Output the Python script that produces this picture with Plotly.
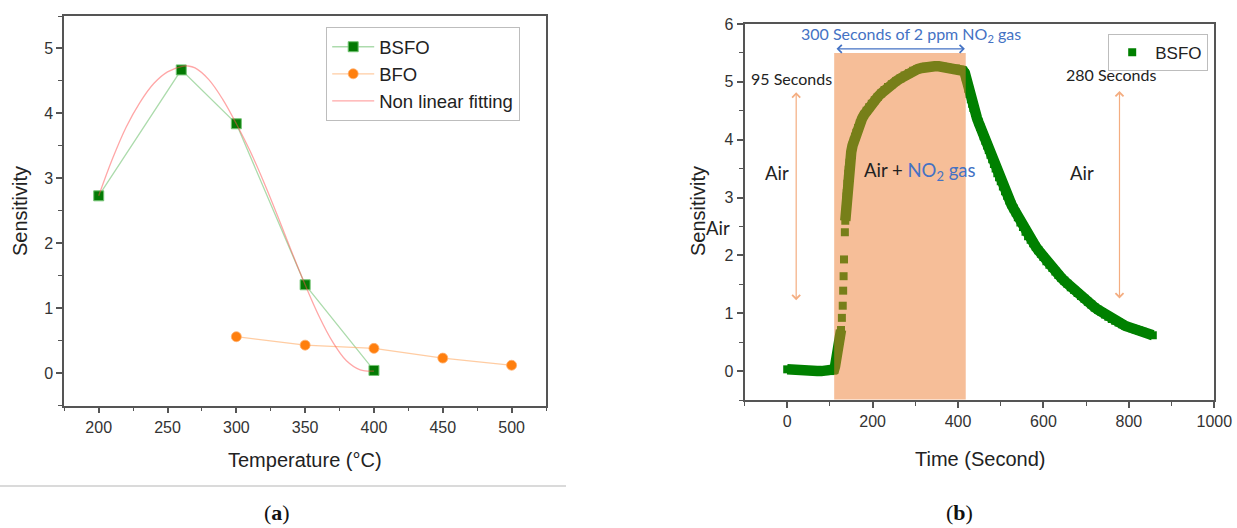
import plotly.graph_objects as go

# ---------------- (a) sensitivity vs operating temperature ----------------
temp_bsfo = [200, 260, 300, 350, 400]
sens_bsfo = [2.73, 4.67, 3.84, 1.36, 0.04]

temp_bfo = [300, 350, 400, 450, 500]
sens_bfo = [0.56, 0.43, 0.38, 0.23, 0.12]

temp_fit = [200, 210, 220, 230, 240, 250, 260, 265, 270, 280, 290,
            300, 310, 320, 330, 340, 350, 360, 370, 380, 390, 400]
sens_fit = [2.73, 3.30, 3.79, 4.17, 4.46, 4.64, 4.72, 4.73, 4.70, 4.52, 4.22,
            3.84, 3.42, 2.94, 2.42, 1.88, 1.36, 0.88, 0.48, 0.19, 0.05, 0.03]

# ---------------- (b) dynamic response of BSFO to 2 ppm NO2 ----------------
time_s = [0, 10, 20, 30, 40, 50, 60, 70, 80, 90, 100, 108,
          110, 112, 114, 116, 118, 120, 122, 124,
          126, 128, 130, 131, 132, 133, 135, 136,
          137, 137.5, 138, 138.5, 139, 139.5, 140, 141, 142, 143, 144, 145, 146, 148,
          150, 153, 156, 159, 162, 166, 170, 175, 180, 186, 192, 198, 205, 212,
          220, 228, 236, 245, 255, 265, 275, 285, 295, 305, 315, 325, 335, 345,
          355, 365, 375, 385, 395, 405, 412, 416,
          418, 421, 424, 427, 430, 433, 436, 440, 444, 448, 452, 456, 460, 464,
          468, 472, 476, 480, 484, 488, 492, 496, 500, 505, 510, 515, 520, 525,
          530, 535, 540, 546, 552, 558, 564, 570, 576, 582, 588, 594, 600, 607,
          614, 621, 628, 635, 642, 649, 656, 664, 672, 680, 688, 696, 704, 712,
          720, 728, 736, 744, 752, 760, 768, 776, 784, 792, 800, 808, 816, 824,
          832, 840, 848, 856]
sens_time = [0.03, 0.02, 0.02, 0.01, 0.01, 0.01, 0.0, 0.0, 0.0, 0.0, 0.0, 0.01,
             0.03, 0.08, 0.15, 0.24, 0.33, 0.43, 0.52, 0.61,
             0.71, 0.92, 1.13, 1.39, 1.64, 1.93, 2.40, 2.60,
             2.72, 2.80, 2.88, 2.95, 3.02, 3.08, 3.14, 3.24, 3.33, 3.41, 3.48, 3.54, 3.60, 3.70,
             3.79, 3.90, 3.98, 4.05, 4.12, 4.20, 4.28, 4.36, 4.43, 4.50, 4.56, 4.62, 4.68, 4.74,
             4.80, 4.86, 4.91, 4.96, 5.01, 5.06, 5.11, 5.15, 5.19, 5.22, 5.24, 5.26, 5.27, 5.27,
             5.27, 5.26, 5.25, 5.24, 5.23, 5.21, 5.19, 5.15,
             5.08, 4.98, 4.88, 4.79, 4.70, 4.62, 4.55, 4.46, 4.38, 4.30, 4.22, 4.14, 4.06, 3.98,
             3.90, 3.82, 3.74, 3.66, 3.58, 3.50, 3.42, 3.35, 3.28, 3.19, 3.11, 3.03, 2.95, 2.88,
             2.81, 2.74, 2.66, 2.57, 2.49, 2.41, 2.33, 2.27, 2.21, 2.15, 2.09, 2.03, 1.97, 1.90,
             1.84, 1.78, 1.72, 1.66, 1.61, 1.56, 1.51, 1.45, 1.40, 1.35, 1.30, 1.25, 1.20, 1.15,
             1.10, 1.06, 1.02, 0.98, 0.94, 0.90, 0.87, 0.84, 0.81, 0.78, 0.76, 0.74, 0.72, 0.70,
             0.68, 0.66, 0.64, 0.62]

# gas exposure window (s)
gas_on, gas_off = 110, 418

W, H = 1237, 528
SANS = "Liberation Sans, Arial, sans-serif"
CALI = "Lato, Carlito, sans-serif"
AXIS_COL = "#555555"
BLUE = "#4472C4"
ARROW_ORANGE = "#F4AD80"
GREEN = "#008000"


def px(xp):
    return xp / W


def py(yp):
    return 1 - yp / H


fig = go.Figure()

fig.add_trace(go.Scatter(
    x=temp_bsfo, y=sens_bsfo, name="BSFO", mode="lines+markers",
    line=dict(color="rgba(70,175,70,0.45)", width=1.3),
    marker=dict(symbol="square", size=10, color="#047A04",
                line=dict(color="#74C474", width=1)),
    xaxis="x", yaxis="y", legend="legend"))
fig.add_trace(go.Scatter(
    x=temp_bfo, y=sens_bfo, name="BFO", mode="lines+markers",
    line=dict(color="rgba(255,170,100,0.6)", width=1.3),
    marker=dict(symbol="circle", size=10, color="#FF7F0E",
                line=dict(color="#FFB070", width=0.8)),
    xaxis="x", yaxis="y", legend="legend"))
fig.add_trace(go.Scatter(
    x=temp_fit, y=sens_fit, name="Non linear fitting", mode="lines",
    line=dict(color="rgba(255,80,80,0.5)", width=1.3, shape="spline"),
    xaxis="x", yaxis="y", legend="legend"))

# dense response band: consecutive samples are joined by a thick stroke,
# except across the large jumps of the fast rise where samples stand apart
band_x, band_y = [], []
for i, (t, s) in enumerate(zip(time_s, sens_time)):
    if i and abs(s - sens_time[i - 1]) > 0.15:
        band_x.append(None)
        band_y.append(None)
    band_x.append(t)
    band_y.append(s)

fig.add_trace(go.Scatter(
    x=band_x, y=band_y, mode="lines", connectgaps=False, showlegend=False,
    line=dict(color=GREEN, width=10.5), hoverinfo="skip",
    xaxis="x2", yaxis="y2"))
fig.add_trace(go.Scatter(
    x=time_s, y=sens_time, name="BSFO", mode="markers",
    marker=dict(symbol="square", size=8, color=GREEN, line=dict(width=0)),
    xaxis="x2", yaxis="y2", legend="legend2"))


def axis(domain, anchor, rng, tick0, dtick, minor_dtick):
    return dict(
        domain=domain, anchor=anchor, range=rng, automargin=False,
        tickmode="linear", tick0=tick0, dtick=dtick,
        ticks="outside", ticklen=6, tickwidth=1.5, tickcolor=AXIS_COL,
        minor=dict(ticks="outside", ticklen=4, tickwidth=1.3,
                   tickcolor=AXIS_COL, dtick=minor_dtick),
        showline=True, linecolor=AXIS_COL, linewidth=1.8, mirror=True,
        showgrid=False, zeroline=False,
        tickfont=dict(family=SANS, size=16, color="#333333"),
    )


# plot-area boxes in pixels
A_L, A_R, A_T, A_B = 64.3, 546.0, 16.0, 405.5
B_L, B_R, B_T, B_B = 744.5, 1214.3, 24.0, 400.0

fig.update_layout(
    width=W, height=H,
    margin=dict(l=0, r=0, t=0, b=0, pad=0, autoexpand=False),
    paper_bgcolor="white", plot_bgcolor="white",
    xaxis=axis([px(A_L), px(A_R)], "y", [175, 525], 200, 50, 25),
    yaxis=axis([py(A_B), py(A_T)], "x", [-0.5, 5.5], 0, 1, 0.5),
    xaxis2=axis([px(B_L), px(B_R)], "y2", [-100, 1000], 0, 200, 100),
    yaxis2=axis([py(B_B), py(B_T)], "x2", [-0.5, 6], 0, 1, 0.5),
    legend=dict(x=px(326), y=py(27), xanchor="left", yanchor="top",
                bordercolor="#BDBDBD", borderwidth=1.2, bgcolor="white",
                font=dict(family=SANS, size=18.5, color="#222222"),
                itemwidth=42, tracegroupgap=0),
    legend2=dict(x=px(1108), y=py(33.5), xanchor="left", yanchor="top",
                 bordercolor="#BDBDBD", borderwidth=1.2, bgcolor="white",
                 font=dict(family=SANS, size=17, color="#222222"),
                 itemwidth=36),
    showlegend=True,
)

# exposure window, semi-transparent so the response shows through
fig.add_shape(type="rect", xref="x2", yref="y2", x0=gas_on, x1=gas_off,
              y0=-0.49, y1=5.5, fillcolor="#ED7D31", opacity=0.5,
              line=dict(width=0), layer="above")

# separator under panel (a)
fig.add_shape(type="line", xref="paper", yref="paper", x0=0, x1=px(566),
              y0=py(486), y1=py(486), line=dict(color="#B5B5B5", width=1.2))

title_font = dict(family=SANS, size=20, color="#222222")
ann = [
    dict(text="Sensitivity", x=px(20), y=py(211), textangle=-90, font=title_font),
    dict(text="Temperature (°C)", x=px(305), y=py(460), font=title_font),
    dict(text="Sensitivity", x=px(698), y=py(211), textangle=-90, font=title_font),
    dict(text="Time (Second)", x=px(980), y=py(459), font=title_font),
    dict(text="(<b>a</b>)", x=px(277), y=py(512),
         font=dict(family="Liberation Serif, serif", size=22, color="#111111")),
    dict(text="(<b>b</b>)", x=px(960), y=py(512),
         font=dict(family="Liberation Serif, serif", size=22, color="#111111")),
    dict(text="Air", x=px(718), y=py(228),
         font=dict(family=CALI, size=18.5, color="#222222")),
]
for a in ann:
    a.update(xref="paper", yref="paper", showarrow=False,
             xanchor="center", yanchor="middle")
    fig.add_annotation(**a)

cal = dict(family=CALI, size=16, color="#222222")
big = dict(family=CALI, size=18.5, color="#222222")
data_text = [
    dict(text="300 Seconds of 2 ppm NO<sub>2</sub> gas", x=289, y=5.81,
         font=dict(family=CALI, size=16, color=BLUE)),
    dict(text="95 Seconds", x=11, y=5.06, font=cal),
    dict(text="280 Seconds", x=759, y=5.13, font=cal),
    dict(text="Air", x=-24, y=3.43, font=big),
    dict(text="Air + <span style='color:%s'>NO<sub>2</sub> gas</span>" % BLUE,
         x=310, y=3.45, font=big),
    dict(text="Air", x=690, y=3.43, font=big),
]
for a in data_text:
    a.update(xref="x2", yref="y2", showarrow=False,
             xanchor="center", yanchor="middle")
    fig.add_annotation(**a)

# double-headed arrows
arrows = [
    dict(x=gas_off - 2, y=5.57, ax=gas_on + 2, ay=5.57, arrowcolor=BLUE),
    dict(x=21, y=4.82, ax=21, ay=1.2, arrowcolor=ARROW_ORANGE),
    dict(x=778, y=4.84, ax=778, ay=1.23, arrowcolor=ARROW_ORANGE),
]
for a in arrows:
    a.update(xref="x2", yref="y2", axref="x2", ayref="y2", text="",
             showarrow=True, arrowhead=4, startarrowhead=4,
             arrowside="end+start", arrowsize=1.3, startarrowsize=1.3,
             arrowwidth=1.2, standoff=0, startstandoff=0)
    fig.add_annotation(**a)

fig.write_html("out.html")
